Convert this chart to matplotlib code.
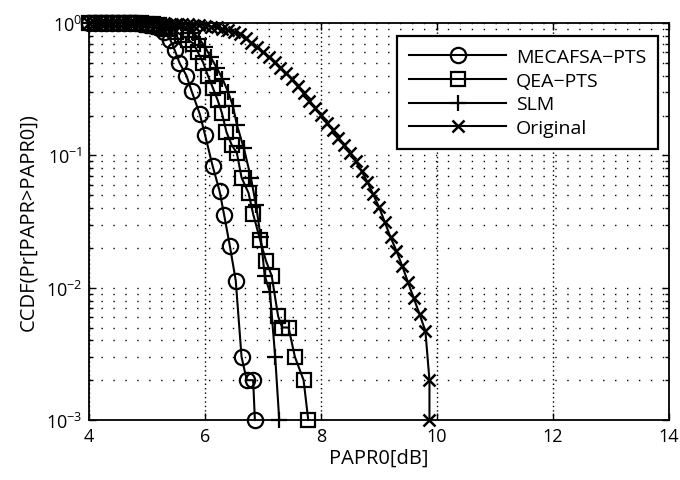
import matplotlib
matplotlib.use('Agg')
import matplotlib.pyplot as plt
from matplotlib.ticker import LogLocator, NullFormatter

plt.rcParams['font.family'] = ['Open Sans', 'DejaVu Sans']
plt.rcParams['mathtext.fontset'] = 'custom'
plt.rcParams['mathtext.rm'] = 'Open Sans'
plt.rcParams['mathtext.it'] = 'Open Sans:italic'
plt.rcParams['mathtext.bf'] = 'Open Sans:bold'

# values
mec_x = [4.0, 4.1, 4.2, 4.3, 4.4, 4.5, 4.6, 4.7, 4.8, 4.9, 5.0, 5.1, 5.2, 5.3, 5.4,
         5.48, 5.56, 5.68, 5.77, 5.91, 6.0, 6.13, 6.25, 6.33, 6.43, 6.53, 6.63,
         6.72, 6.83, 6.86]
mec_y = [1.0, 1.0, 1.0, 1.0, 1.0, 1.0, 0.999, 0.997, 0.993, 0.985, 0.97, 0.95, 0.91,
         0.85, 0.75, 0.62, 0.50, 0.40, 0.305, 0.205, 0.143, 0.0835, 0.054, 0.0354,
         0.0205, 0.0113, 0.003, 0.002, 0.002, 0.001]

qea_x = [4.0, 4.1, 4.2, 4.3, 4.4, 4.5, 4.6, 4.7, 4.8, 4.9, 5.0, 5.1, 5.2, 5.3, 5.4,
         5.5, 5.6, 5.7, 5.8, 5.88, 5.97, 6.05, 6.14, 6.22, 6.29, 6.37, 6.46, 6.55,
         6.63, 6.75, 6.83, 6.95, 7.05, 7.15, 7.26, 7.33, 7.44, 7.55, 7.70, 7.78]
qea_y = [1.0, 1.0, 1.0, 1.0, 1.0, 1.0, 1.0, 0.999, 0.998, 0.996, 0.99, 0.98, 0.96,
         0.93, 0.90, 0.86, 0.81, 0.75, 0.70, 0.60, 0.50, 0.40, 0.32, 0.26, 0.21,
         0.15, 0.12, 0.104, 0.068, 0.052, 0.036, 0.023, 0.016, 0.0123, 0.0061,
         0.005, 0.005, 0.003, 0.002, 0.001]

slm_x = [4.0, 4.1, 4.2, 4.3, 4.4, 4.5, 4.6, 4.7, 4.8, 4.9, 5.0, 5.1, 5.2, 5.3, 5.4,
         5.5, 5.6, 5.7, 5.8, 5.9, 6.0, 6.1, 6.2, 6.3, 6.4, 6.48, 6.55, 6.67, 6.79,
         6.88, 6.96, 7.03, 7.12, 7.21, 7.28]
slm_y = [1.0, 1.0, 1.0, 1.0, 1.0, 1.0, 1.0, 1.0, 0.999, 0.998, 0.996, 0.99, 0.98,
         0.97, 0.955, 0.935, 0.91, 0.88, 0.84, 0.76, 0.66, 0.55, 0.46, 0.38, 0.30,
         0.237, 0.17, 0.113, 0.068, 0.042, 0.024, 0.0123, 0.0092, 0.003, 0.001]

orig_x = [4.0, 4.1, 4.2, 4.3, 4.4, 4.5, 4.6, 4.7, 4.8, 4.9, 5.0, 5.1, 5.2, 5.3, 5.4,
          5.5, 5.6, 5.7, 5.8, 5.9, 6.0, 6.1, 6.2, 6.3, 6.4, 6.5, 6.6, 6.7, 6.8, 6.9,
          7.0, 7.1, 7.2, 7.3, 7.4, 7.5, 7.6, 7.7, 7.8, 7.9, 8.0, 8.1, 8.2, 8.3, 8.4,
          8.5, 8.6, 8.7, 8.8, 8.9, 9.0, 9.1, 9.2, 9.3, 9.4, 9.5, 9.6, 9.7, 9.8,
          9.87, 9.87]
orig_y = [1.0, 1.0, 1.0, 1.0, 1.0, 1.0, 1.0, 1.0, 1.0, 0.999, 0.999, 0.998, 0.996,
          0.993, 0.99, 0.986, 0.981, 0.975, 0.968, 0.96, 0.95, 0.94, 0.925, 0.905,
          0.88, 0.855, 0.825, 0.767, 0.71, 0.655, 0.603, 0.555, 0.509, 0.46, 0.417,
          0.375, 0.333, 0.294, 0.259, 0.228, 0.201, 0.177, 0.156, 0.136, 0.12,
          0.105, 0.090, 0.076, 0.063, 0.0507, 0.0407, 0.0313, 0.024, 0.019, 0.0146,
          0.011, 0.0083, 0.0063, 0.0047, 0.002, 0.001]

fig = plt.figure(figsize=(6.8, 4.81), dpi=100)
ax = fig.add_axes([0.1309, 0.1247, 0.8529, 0.8254])

lw = 1.5
mew = 1.6
ax.semilogy(mec_x, mec_y, '-', color='k', lw=lw, marker='o', ms=11, mfc='none',
            mew=mew, label='MECAFSA\u2212PTS', clip_on=False)
ax.semilogy(qea_x, qea_y, '-', color='k', lw=lw, marker='s', ms=9.5, mfc='none',
            mew=mew, label='QEA\u2212PTS', clip_on=False)
ax.semilogy(slm_x, slm_y, '-', color='k', lw=lw, marker='+', ms=12,
            mew=mew, label='SLM', clip_on=False)
ax.semilogy(orig_x, orig_y, '-', color='k', lw=lw, marker='x', ms=8,
            mew=1.8, label='Original', clip_on=False)

ax.set_xlim(4, 14)
ax.set_ylim(1e-3, 1)
ax.set_xticks([4, 6, 8, 10, 12, 14])
ax.yaxis.set_minor_locator(LogLocator(base=10, subs=range(2, 10)))
ax.yaxis.set_minor_formatter(NullFormatter())

ax.grid(True, which='major', axis='x', color='k', lw=1.0, ls=(0, (1, 2.2)))
ax.grid(True, which='both', axis='y', color='k', lw=1.0, ls=(0, (1, 7.6)))

ax.tick_params(which='both', direction='in', top=True, right=True,
               labelsize=13, width=1.0)
ax.tick_params(which='major', length=5, pad=5)
ax.tick_params(which='minor', length=3)
for s in ax.spines.values():
    s.set_linewidth(1.3)

ax.set_xlabel('PAPR0[dB]', fontsize=14.5, labelpad=2)
ax.set_ylabel('CCDF(Pr[PAPR>PAPR0])', fontsize=14.5, labelpad=5)

leg = ax.legend(loc='upper right', bbox_to_anchor=(0.981, 0.967), fontsize=14,
                handlelength=5.0, borderaxespad=0, fancybox=False, framealpha=1,
                edgecolor='k', labelspacing=0.3, borderpad=0.6, handletextpad=0.5)
leg.get_frame().set_linewidth(1.6)

fig.savefig('out.png', dpi=100)
